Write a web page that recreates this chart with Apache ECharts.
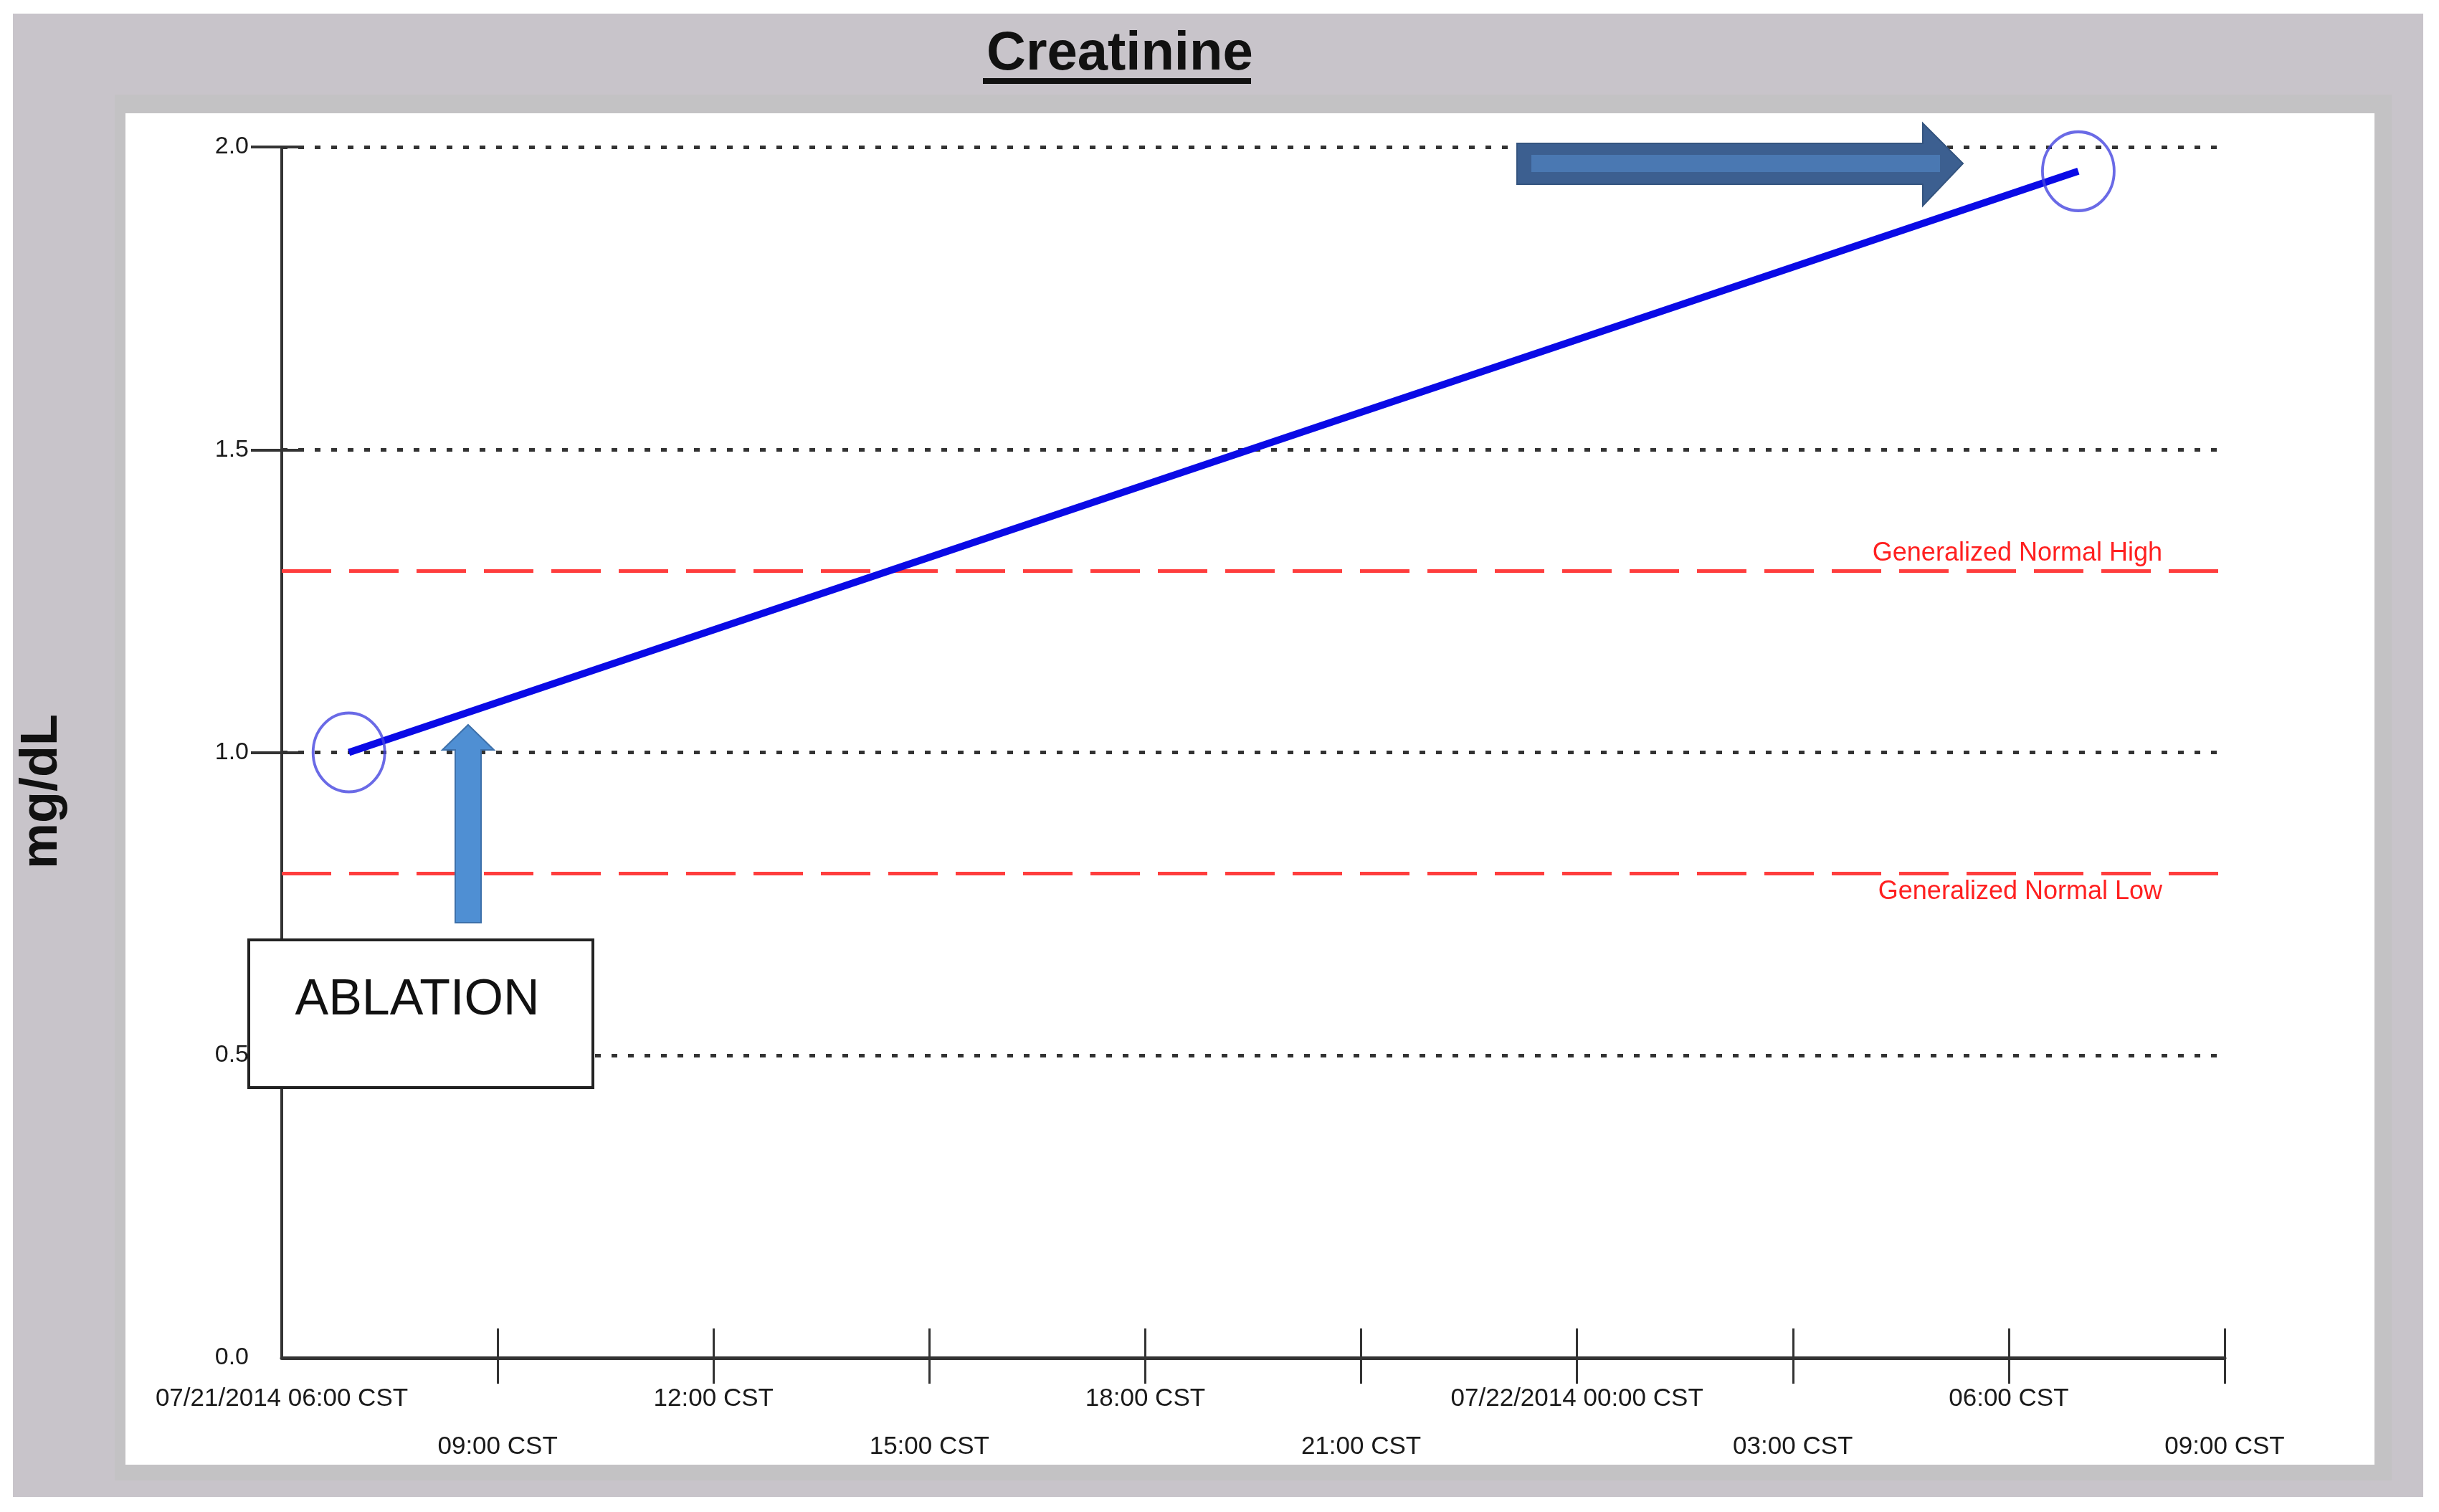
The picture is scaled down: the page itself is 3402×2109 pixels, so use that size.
<!DOCTYPE html>
<html>
<head>
<meta charset="utf-8">
<script src="https://cdn.jsdelivr.net/npm/echarts@6.0.0/dist/echarts.min.js"></script>
<style>
  html, body { margin: 0; padding: 0; background: #ffffff; }
  #frame { position: absolute; left: 18px; top: 19px; width: 3362px; height: 2069px; background: #c8c4ca; }
  #shadow { position: absolute; left: 160px; top: 132px; width: 3176px; height: 1933px; background: #c3c2c4; }
  #panel { position: absolute; left: 175px; top: 158px; width: 3137px; height: 1885px; background: #ffffff; }
  #chart { position: absolute; left: 0; top: 0; width: 3402px; height: 2109px; }
</style>
</head>
<body>
<div id="frame"></div>
<div id="shadow"></div>
<div id="panel"></div>
<div id="chart"></div>
<script>
// ---- data ----
const axisStart = '2014-07-21 06:00';
const sampleTimes = ['2014-07-21 06:56', '2014-07-22 06:58'];
const creatinineValues = [1.0, 1.96];
const xTickLabels = ['07/21/2014 06:00 CST', '09:00 CST', '12:00 CST', '15:00 CST', '18:00 CST',
                     '21:00 CST', '07/22/2014 00:00 CST', '03:00 CST', '06:00 CST', '09:00 CST'];
const xTickHours = [0, 3, 6, 9, 12, 15, 18, 21, 24, 27];
const yTickValues = [0, 0.5, 1.0, 1.5, 2.0];
const normalHigh = 1.3;
const normalLow = 0.8;
const titleText = 'Creatinine';
const unitText = 'mg/dL';
const annotationText = 'ABLATION';

function toUTC(s) {
  const [d, t] = s.split(' ');
  const [Y, M, D] = d.split('-').map(Number);
  const [h, m] = t.split(':').map(Number);
  return Date.UTC(Y, M - 1, D, h, m);
}
function hoursSinceStart(s) { return (toUTC(s) - toUTC(axisStart)) / 3600000; }

const points = sampleTimes.map((t, i) => [hoursSinceStart(t), creatinineValues[i]]);
const FONT = '"Liberation Sans", Arial, sans-serif';

const chart = echarts.init(document.getElementById('chart'), null, { renderer: 'canvas' });

const xLabel = v => xTickLabels[xTickHours.indexOf(Math.round(v))] || '';

const option = {
  backgroundColor: 'transparent',
  animation: false,
  title: {
    text: titleText,
    left: 1371, top: 33,
    textStyle: { fontFamily: FONT, fontWeight: 'bold', fontSize: 76, color: '#111' }
  },
  grid: { left: 393, top: 205, right: 299, bottom: 215, containLabel: false },
  xAxis: [
    {
      type: 'value', position: 'bottom', min: 0, max: 27, interval: 3,
      axisLine: { show: true, lineStyle: { color: '#333', width: 5 } },
      axisTick: { show: true, length: 36, customValues: xTickHours.slice(1), lineStyle: { color: '#333', width: 3 } },
      axisLabel: {
        show: true, customValues: xTickHours.filter((h, i) => i % 2 === 0),
        formatter: xLabel, margin: 40, fontSize: 35, fontFamily: FONT, color: '#1a1a1a'
      },
      splitLine: { show: false }
    },
    {
      type: 'value', position: 'bottom', min: 0, max: 27, interval: 3,
      axisLine: { show: false },
      axisTick: { show: true, inside: true, length: 41, customValues: xTickHours.slice(1), lineStyle: { color: '#333', width: 3 } },
      axisLabel: {
        show: true, customValues: xTickHours.filter((h, i) => i % 2 === 1),
        formatter: xLabel, margin: 107, fontSize: 35, fontFamily: FONT, color: '#1a1a1a'
      },
      splitLine: { show: false }
    }
  ],
  yAxis: [
    {
      type: 'value', position: 'left', min: 0, max: 2, interval: 0.5,
      axisLine: { show: true, lineStyle: { color: '#333', width: 4 } },
      axisTick: { show: true, length: 43, customValues: yTickValues.slice(1), lineStyle: { color: '#333', width: 4 } },
      axisLabel: {
        show: true, customValues: yTickValues, formatter: v => v.toFixed(1),
        margin: 46, fontSize: 34, fontFamily: FONT, color: '#1a1a1a'
      },
      splitLine: { show: true, lineStyle: { color: '#333333', width: 5, type: [8, 15] } }
    },
    {
      type: 'value', position: 'left', min: 0, max: 2, interval: 0.5,
      axisLine: { show: false },
      axisTick: { show: true, inside: true, length: 30, customValues: yTickValues.slice(1), lineStyle: { color: '#333', width: 4 } },
      axisLabel: { show: false },
      splitLine: { show: false }
    }
  ],
  series: [
    {
      name: 'Creatinine',
      type: 'line',
      xAxisIndex: 0, yAxisIndex: 0,
      data: points,
      showSymbol: false,
      z: 5,
      lineStyle: { color: '#0a0ae6', width: 10 },
      markLine: {
        silent: true,
        symbol: ['none', 'none'],
        lineStyle: { color: '#ff3d3d', width: 5, type: [69, 25] },
        data: [
          { yAxis: normalHigh, name: 'Generalized Normal High',
            label: { position: 'insideEndTop', distance: [87, 6] } },
          { yAxis: normalLow, name: 'Generalized Normal Low',
            label: { position: 'insideEndBottom', distance: [87, 8] } }
        ],
        label: { show: true, formatter: '{b}', color: '#ff2020', fontSize: 36, fontFamily: FONT }
      }
    },
    {
      name: 'points',
      type: 'scatter',
      xAxisIndex: 0, yAxisIndex: 0,
      data: points,
      symbol: 'circle',
      symbolSize: [100, 110],
      z: 6,
      itemStyle: { color: 'rgba(0,0,0,0)', borderColor: '#4545e0', borderWidth: 4 }
    }
  ],
  graphic: [
    { type: 'rect', z: 100, shape: { x: 1371, y: 109, width: 374, height: 8 }, style: { fill: '#111' } },
    { type: 'text', z: 100, x: 59, y: 1104, rotation: Math.PI / 2,
      style: { text: unitText, font: 'bold 72px ' + FONT, fill: '#111', align: 'center', verticalAlign: 'middle' } },
    { type: 'rect', z: 100, shape: { x: 347, y: 1311, width: 480, height: 206 },
      style: { fill: '#ffffff', stroke: '#222', lineWidth: 4 } },
    { type: 'text', z: 101, x: 582, y: 1396,
      style: { text: annotationText, font: '70px ' + FONT, fill: '#111', align: 'center', verticalAlign: 'middle' } },
    { type: 'polygon', z: 100,
      shape: { points: [[653, 1011], [689, 1046], [671, 1046], [671, 1287], [635, 1287], [635, 1046], [617, 1046]] },
      style: { fill: '#4f8fd3', stroke: '#3d70aa', lineWidth: 2 } },
    { type: 'polygon', z: 100,
      shape: { points: [[2116, 200], [2682, 200], [2682, 172], [2738, 228], [2682, 287], [2682, 257], [2116, 257]] },
      style: { fill: '#3c5f90', stroke: '#34547f', lineWidth: 2 } },
    { type: 'rect', z: 101, shape: { x: 2136, y: 216, width: 570, height: 24 }, style: { fill: '#4a78b2' } }
  ]
};
chart.setOption(option);
</script>
</body>
</html>
